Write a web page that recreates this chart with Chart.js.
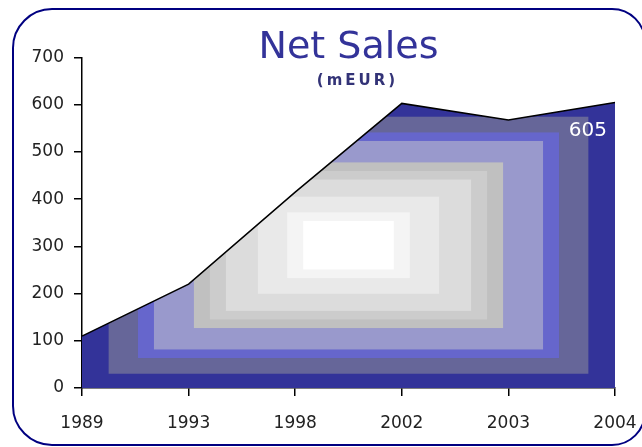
<!DOCTYPE html>
<html>
<head>
<meta charset="utf-8">
<script src="https://cdn.jsdelivr.net/npm/chart.js@4.4.1/dist/chart.umd.min.js"></script>
<style>
  html, body { margin: 0; padding: 0; background: #fff; overflow: hidden; }
  #wrap { position: relative; width: 642px; height: 447px; overflow: hidden; }
  #frame {
    position: absolute; left: 12px; top: 8px; width: 634px; height: 438px;
    box-sizing: border-box; border: 2.5px solid #000080;
    border-radius: 40px 34px 34px 40px;
    pointer-events: none;
  }
</style>
</head>
<body>
<div id="wrap">
  <canvas id="mycanvas"></canvas>
  <div id="frame"></div>
</div>
<script>
// chart data
var years = ['1989', '1993', '1998', '2002', '2003', '2004'];
var sales = [110, 220, 415, 603, 568, 605];
var yTicks = [0, 100, 200, 300, 400, 500, 600, 700];
var titleText = 'Net Sales';
var subtitleText = '(mEUR)';

// rectangle gradient bands, outside -> centre
var bandStops = [0, 0.10, 0.21, 0.27, 0.42, 0.48, 0.54, 0.66, 0.77, 0.83];
var bandColors = ['#333399', '#666699', '#6666cc', '#9999cc', '#c0c0c0',
                  '#cccccc', '#dcdcdc', '#e9e9e9', '#f4f4f4', '#ffffff'];

function boxFill(context) {
    var chart = context.chart;
    var area = chart.chartArea;
    if (!area) return bandColors[0];
    var top = chart.scales.y.getPixelForValue(Math.max.apply(null, sales));
    var left = area.left, right = area.right, bottom = area.bottom;
    var off = document.createElement('canvas');
    off.width = chart.width;
    off.height = chart.height;
    var c = off.getContext('2d');
    var cx = (left + right) / 2, cy = (top + bottom) / 2;
    var hw = (right - left) / 2, hh = (bottom - top) / 2;
    for (var i = 0; i < bandStops.length; i++) {
        var k = 1 - bandStops[i];
        c.fillStyle = bandColors[i];
        c.fillRect(cx - hw * k, cy - hh * k, 2 * hw * k, 2 * hh * k);
    }
    return chart.ctx.createPattern(off, 'no-repeat');
}

var subtitlePlugin = {
    id: 'subtitleSpaced',
    afterDraw: function(chart) {
        var ctx = chart.ctx, area = chart.chartArea;
        ctx.save();
        ctx.font = 'bold 15px "DejaVu Sans"';
        ctx.letterSpacing = '3px';
        ctx.fillStyle = '#333377';
        ctx.textAlign = 'center';
        ctx.textBaseline = 'middle';
        ctx.fillText(subtitleText, (area.left + area.right) / 2 + 9, 81);
        ctx.restore();
    }
};

var lastLabel = {
    id: 'lastLabel',
    afterDatasetsDraw: function(chart) {
        var ctx = chart.ctx;
        var meta = chart.getDatasetMeta(0);
        var n = sales.length - 1;
        var pt = meta.data[n];
        ctx.save();
        ctx.font = '20px "DejaVu Sans"';
        ctx.fillStyle = '#ffffff';
        ctx.textAlign = 'right';
        ctx.textBaseline = 'top';
        ctx.fillText(String(sales[n]), pt.x - 8, pt.y + 18);
        ctx.restore();
    }
};

var tickFont = { family: '"DejaVu Sans"', size: 17 };

var chardata = {
    labels: years,
    datasets: [
        {
            label: 'Net Sales',
            data: sales,
            borderColor: '#000000',
            borderWidth: 1.5,
            backgroundColor: boxFill,
            fill: 'origin',
            tension: 0,
            pointRadius: 0
        }
    ]
};

var ctx = document.getElementById('mycanvas');
var areaChart = new Chart(ctx, {
    type: 'line',
    data: chardata,
    plugins: [subtitlePlugin, lastLabel],
    options: {
        responsive: true,
        maintainAspectRatio: false,
        devicePixelRatio: 1,
        animation: false,
        layout: { padding: { left: 30, right: 27, top: 0, bottom: 9 } },
        plugins: {
            legend: { display: false },
            tooltip: { enabled: false },
            title: {
                display: true,
                text: titleText,
                color: '#333399',
                fullSize: false,
                font: { family: '"DejaVu Sans"', size: 38, weight: 'normal', lineHeight: 1.2 },
                padding: { top: 25, bottom: -13 }
            }
        },
        scales: {
            x: {
                offset: false,
                border: { display: true, color: '#000', width: 1.5 },
                grid: { drawOnChartArea: false, drawTicks: true, tickLength: 8, color: '#000', lineWidth: 1.5 },
                ticks: { color: '#222', font: tickFont, padding: 17, maxRotation: 0, autoSkip: false },
                afterFit: function(scale) {
                    scale.height = 50;
                    scale.paddingLeft = 0;
                    scale.paddingRight = 0;
                }
            },
            y: {
                min: 0,
                max: 700,
                afterBuildTicks: function(scale) {
                    scale.ticks = yTicks.map(function(v) { return { value: v }; });
                },
                border: { display: true, color: '#000', width: 1.5 },
                grid: { drawOnChartArea: false, drawTicks: true, tickLength: 8, color: '#000', lineWidth: 1.5 },
                ticks: { color: '#222', font: tickFont, padding: 10 },
                afterFit: function(scale) { scale.width = 52; }
            }
        }
    }
});
</script>
</body>
</html>
